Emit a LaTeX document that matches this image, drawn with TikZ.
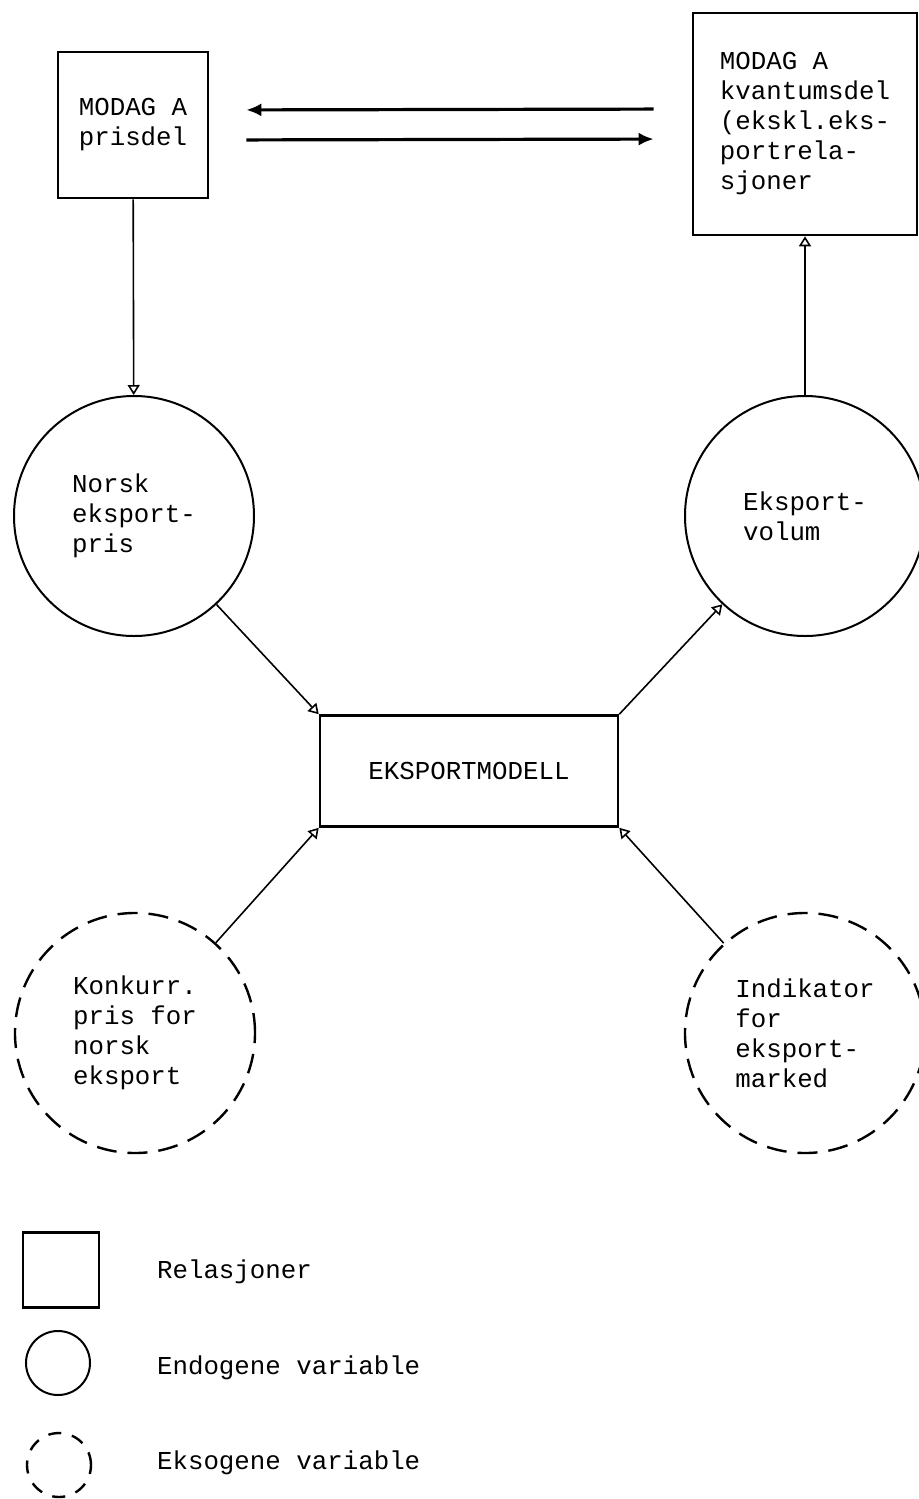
\documentclass[tikz,border=0pt]{standalone}
\usepackage{fontspec}
\setmonofont{Liberation Mono}
\usepackage{xcolor}
\usetikzlibrary{arrows.meta}

\begin{document}
\begin{tikzpicture}[
    x=0.5pt, y=-0.5pt,
    txt/.style ={font=\fontsize{12.9}{15}\selectfont\ttfamily, align=left},
    relbox/.style ={rectangle, draw=black, line width=1.3pt, inner sep=0pt, txt},
    endo/.style ={circle, draw=black, line width=1pt, minimum size=120pt,
                  inner sep=0pt, txt},
    exo/.style ={circle, draw=black, line width=1.2pt, minimum size=120pt,
                 inner sep=0pt, dash pattern=on 10pt off 5.5pt, txt},
    flow/.style ={line width=0.8pt, -{Triangle[open, length=5pt, width=6pt]}},
    link/.style ={line width=1.6pt, -{Latex[length=7.5pt, width=6.5pt]}}
]
\useasboundingbox (0,0) rectangle (918,1499);

%% --- MODAG A, pris og kvantum ---
\node[relbox, minimum width=75pt, minimum height=73pt]  (pris)  at (133,125) {MODAG A\\prisdel};
\node[relbox, minimum width=112pt, minimum height=111pt] (kvant) at (805,124)
    {MODAG A\\kvantumsdel\\(ekskl.eks-\\portrela-\\sjoner};

%% --- endogene variable ---
\node[endo] (norsk) at (134,516) {Norsk\\eksport-\\pris};
\node[endo] (volum) at (805,516) {Eksport-\\volum};

%% --- eksportmodellen ---
\node[relbox, minimum width=149pt, minimum height=55.5pt] (modell) at (469,771) {EKSPORTMODELL};

%% --- eksogene variable ---
\node[exo] (konk) at (135,1033) {Konkurr.\\pris for\\norsk\\eksport};
\node[exo] (indik) at (805,1033) {Indikator\\for\\eksport-\\marked};

%% --- koblinger mellom delene av MODAG A ---
\draw[link, shorten <=19pt, shorten >=18.5pt] ([yshift=7.5pt]kvant.west) -- ([yshift=7.5pt]pris.east);
\draw[link, shorten <=18.5pt, shorten >=19pt] ([yshift=-7.5pt]pris.east) -- ([yshift=-7.5pt]kvant.west);

%% --- piler ---
\draw[flow] (pris) -- (norsk);
\draw[flow] (volum) -- (kvant);
\draw[flow] (norsk) -- (modell.north west);
\draw[flow] (modell.north east) -- (volum);
\draw[flow] (konk) -- (modell.south west);
\draw[flow] (indik) -- (modell.south east);

%% --- tegnforklaring ---
\node[relbox, minimum width=38pt, minimum height=37.5pt] (legrel) at (61,1270) {};
\node[endo, minimum size=32pt] (legendo) at (58,1363) {};
\node[exo, minimum size=32pt, dash pattern=on 6.5pt off 5.5pt] (legexo) at (59,1465) {};
\node[txt, anchor=west] (legrel-t)  at (150,1272) {Relasjoner};
\node[txt, anchor=west] (legendo-t) at (150,1368) {Endogene variable};
\node[txt, anchor=west] (legexo-t)  at (150,1463) {Eksogene variable};
\end{tikzpicture}
\end{document}
